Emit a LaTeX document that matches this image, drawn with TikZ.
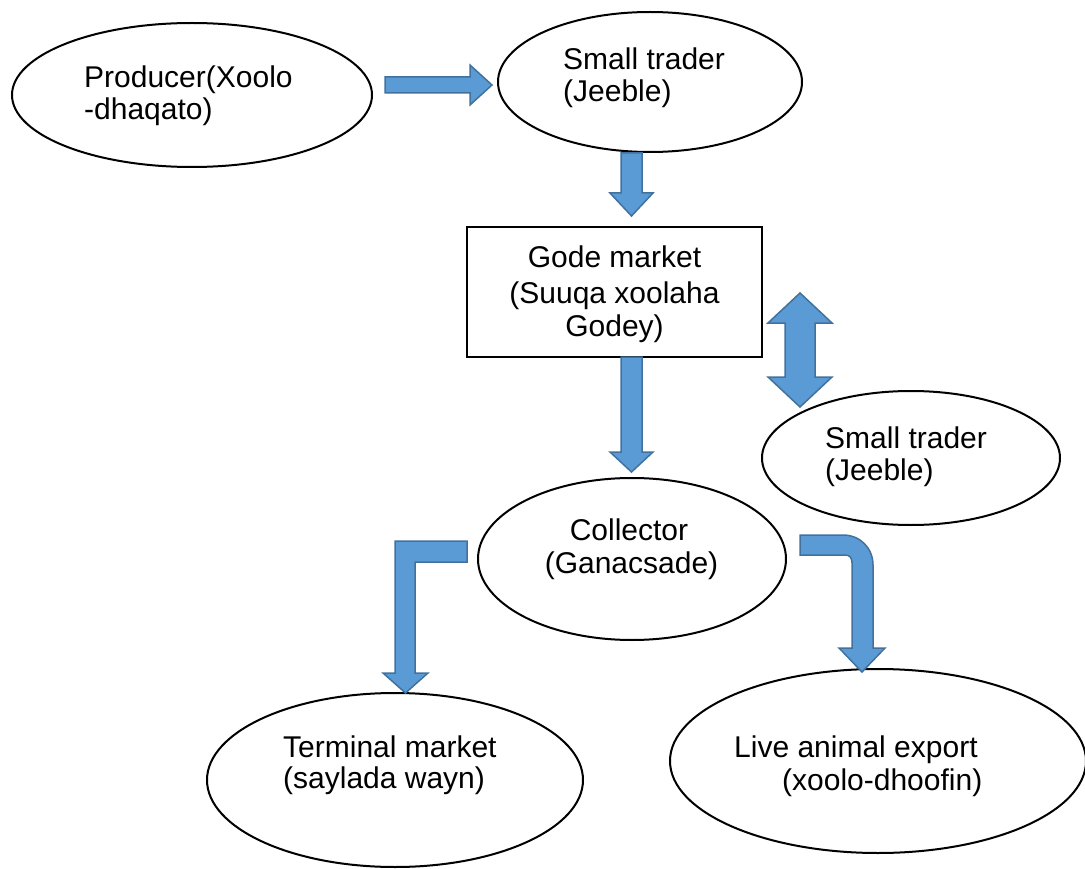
\documentclass[tikz,border=0pt]{standalone}
\usepackage{fontspec}
\setmainfont{Liberation Sans}
\usetikzlibrary{shapes.geometric}
\definecolor{arrfill}{HTML}{5B9BD5}
\definecolor{arrdraw}{HTML}{41719C}
\begin{document}
\begin{tikzpicture}[x=1pt,y=-1pt,
  oval/.style={ellipse,draw=black,line width=2pt,inner sep=0pt},
  boxnode/.style={draw=black,line width=2pt,inner sep=0pt},
  lbl/.style={inner sep=0pt,font=\fontsize{30}{33}\selectfont},
  blockarrow/.style={fill=arrfill,draw=arrdraw,line width=1.5pt,line join=miter}]
\useasboundingbox (0,0) rectangle (1085,869);
% shapes
\node[oval,minimum width=360pt,minimum height=144pt] (prod) at (192,95) {};
\node[oval,minimum width=304pt,minimum height=140pt] (st1) at (650,82) {};
\node[boxnode,minimum width=295pt,minimum height=130pt] (gode) at (614.5,292) {};
\node[oval,minimum width=298pt,minimum height=134pt] (st2) at (911,458) {};
\node[oval,minimum width=308pt,minimum height=162pt] (coll) at (632,559) {};
\node[oval,minimum width=376pt,minimum height=174pt] (term) at (395,780) {};
\node[oval,minimum width=416pt,minimum height=184pt] (live) at (878,761) {};
% texts
\node[lbl,anchor=base west] (prodA) at (84,88) {Producer(Xoolo};
\node[lbl,anchor=base west] (prodB) at (84,120) {-dhaqato)};
\node[lbl,anchor=base west] (st1A) at (563,70) {Small trader};
\node[lbl,anchor=base west] (st1B) at (563,102) {(Jeeble)};
\node[lbl,anchor=base] (godeA) at (614.5,268) {Gode market};
\node[lbl,anchor=base] (godeB) at (614.5,303) {(Suuqa xoolaha};
\node[lbl,anchor=base] (godeC) at (614.5,337) {Godey)};
\node[lbl,anchor=base west] (st2A) at (825,448) {Small trader};
\node[lbl,anchor=base west] (st2B) at (825,480) {(Jeeble)};
\node[lbl,anchor=base] (collA) at (629,540) {Collector};
\node[lbl,anchor=base] (collB) at (631.5,573) {(Ganacsade)};
\node[lbl,anchor=base west] (termA) at (283,757) {Terminal market};
\node[lbl,anchor=base west] (termB) at (283,788) {(saylada wayn)};
\node[lbl,anchor=base west] (liveA) at (734,757) {Live animal export};
\node[lbl,anchor=base west] (liveB) at (782,790) {(xoolo-dhoofin)};
% block arrows
\draw[blockarrow] (385,77) -- (470,77) -- (470,65) -- (492,85) -- (470,105) -- (470,93) -- (385,93) -- cycle;
\draw[blockarrow] (621,153) -- (642,153) -- (642,193) -- (653,193) -- (631.5,216) -- (610,193) -- (621,193) -- cycle;
\draw[blockarrow] (800,293) -- (832,323) -- (815,323) -- (815,377) -- (832,377) -- (800,407) -- (768,377) -- (785,377) -- (785,323) -- (768,323) -- cycle;
\draw[blockarrow] (621,357) -- (642,357) -- (642,452) -- (653,452) -- (631.5,472) -- (610,452) -- (621,452) -- cycle;
\draw[blockarrow] (467,541) -- (467,562) -- (415,562) -- (415,673) -- (428,673) -- (405.5,693) -- (383,673) -- (395,673) -- (395,541) -- cycle;
\draw[blockarrow] (800,535) -- (843,535) .. controls (860,535) and (873,548) .. (873,565) -- (873,648) -- (885,648) -- (862,672) -- (839,648) -- (852,648) -- (852,563) .. controls (852,558) and (850,555) .. (845,555) -- (800,555) -- cycle;
\end{tikzpicture}
\end{document}
